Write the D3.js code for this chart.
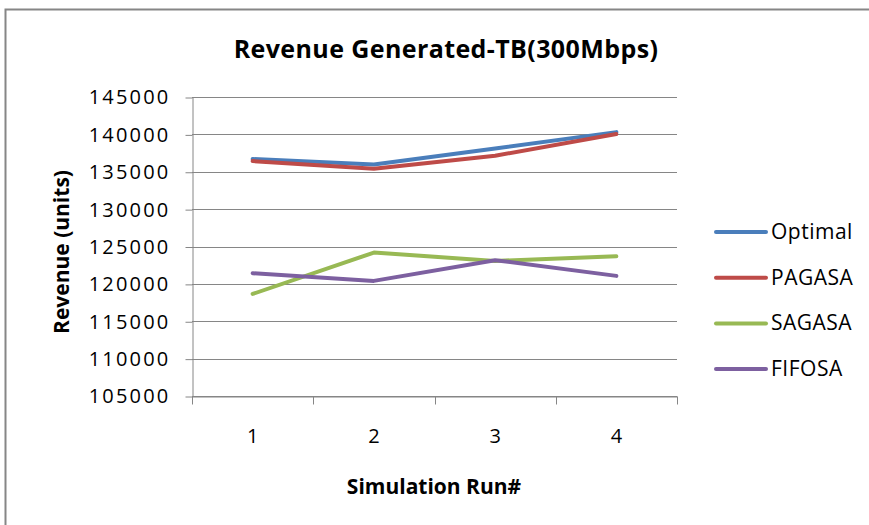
<!DOCTYPE html>
<html lang="en">
<head>
    <meta charset="UTF-8">
    <title>Revenue Generated-TB(300Mbps)</title>
    <script src="https://d3js.org/d3.v7.min.js"></script>
    <style>
        body { margin: 0; background: #fff; }
        text { font-family: "Open Sans", sans-serif; fill: #000; }
        .grid line { stroke: #868686; stroke-width: 1px; }
        .axis path, .axis line { stroke: #868686; }
        .series { fill: none; stroke-width: 4px; stroke-linejoin: round; stroke-linecap: round; }
    </style>
</head>
<body>
    <script>
    // data
    const runs = [1, 2, 3, 4];
    const optimal = [136700, 135970, 138100, 140300];
    const pagasa  = [136430, 135400, 137140, 140050];
    const sagasa  = [118650, 124190, 123070, 123700];
    const fifosa  = [121430, 120400, 123170, 121070];
    const yTicks = [105000, 110000, 115000, 120000, 125000, 130000, 135000, 140000, 145000];

    const seriesNames = ["Optimal", "PAGASA", "SAGASA", "FIFOSA"];
    const seriesValues = [optimal, pagasa, sagasa, fifosa];
    const colors = ["#4a7ebb", "#be4b48", "#98b954", "#7d60a0"];

    const width = 869, height = 525;
    const plot = { left: 192, right: 677, top: 97, bottom: 396 };

    const svg = d3.select("body").append("svg")
        .attr("width", width)
        .attr("height", height);

    // chart frame
    svg.append("rect")
        .attr("x", 5.5).attr("y", 9.5)
        .attr("width", width + 10).attr("height", height + 10)
        .attr("fill", "none")
        .attr("stroke", "#868686")
        .attr("stroke-width", 2);

    const x = d3.scaleBand()
        .domain(runs)
        .range([plot.left, plot.right]);

    const y = d3.scaleLinear()
        .domain([105000, 145000])
        .range([plot.bottom, plot.top]);

    // horizontal gridlines
    svg.append("g")
        .attr("class", "grid")
        .selectAll("line")
        .data(yTicks)
        .enter().append("line")
        .attr("x1", plot.left).attr("x2", plot.right)
        .attr("y1", d => Math.round(y(d)) + 0.5)
        .attr("y2", d => Math.round(y(d)) + 0.5);

    // y axis
    const yAxis = svg.append("g")
        .attr("class", "axis")
        .attr("transform", `translate(${plot.left + 0.5},0.5)`)
        .call(d3.axisLeft(y).tickValues(yTicks).tickFormat(d3.format("d"))
            .tickSize(7).tickPadding(15).tickSizeOuter(0));
    yAxis.selectAll("text")
        .style("font-size", "20px")
        .style("letter-spacing", "2.2px")
        .style("font-family", "'Open Sans', sans-serif")
        .attr("fill", "#000");

    // x axis with ticks at category boundaries
    const xAxis = svg.append("g")
        .attr("class", "axis")
        .attr("transform", `translate(0,${plot.bottom + 0.5})`)
        .call(d3.axisBottom(x).tickSize(0).tickPadding(32).tickSizeOuter(0));
    xAxis.selectAll("text")
        .style("font-size", "20px")
        .style("font-family", "'Open Sans', sans-serif")
        .attr("fill", "#000");
    const bounds = runs.map(r => x(r)).concat([plot.right]);
    xAxis.selectAll(".bound")
        .data(bounds)
        .enter().append("line")
        .attr("class", "bound")
        .attr("x1", d => Math.round(d) + 0.5).attr("x2", d => Math.round(d) + 0.5)
        .attr("y1", 0).attr("y2", 8);

    // series lines
    const line = d3.line()
        .x((d, i) => x(runs[i]) + x.bandwidth() / 2)
        .y(d => y(d));

    svg.append("g")
        .selectAll("path")
        .data(seriesValues)
        .enter().append("path")
        .attr("class", "series")
        .attr("stroke", (d, i) => colors[i])
        .attr("d", line);

    // title and axis titles
    svg.append("text")
        .attr("x", 446).attr("y", 58)
        .attr("text-anchor", "middle")
        .style("font-size", "25px")
        .style("font-weight", "bold")
        .style("letter-spacing", "0.4px")
        .text("Revenue Generated-TB(300Mbps)");

    svg.append("text")
        .attr("transform", "translate(69,252) rotate(-90)")
        .attr("text-anchor", "middle")
        .style("font-size", "21px")
        .style("font-weight", "bold")
        .text("Revenue (units)");

    svg.append("text")
        .attr("x", 434).attr("y", 494)
        .attr("text-anchor", "middle")
        .style("font-size", "21px")
        .style("font-weight", "bold")
        .text("Simulation Run#");

    // legend
    const legend = svg.append("g")
        .selectAll("g")
        .data(seriesNames)
        .enter().append("g")
        .attr("transform", (d, i) => `translate(714,${232 + i * 45.7})`);

    legend.append("line")
        .attr("x1", 2).attr("x2", 52)
        .attr("stroke", (d, i) => colors[i])
        .attr("stroke-width", 4)
        .attr("stroke-linecap", "round");

    legend.append("text")
        .attr("x", 57).attr("y", 7)
        .style("font-size", "21px")
        .style("letter-spacing", "0.5px")
        .text(d => d);
    </script>
</body>
</html>
